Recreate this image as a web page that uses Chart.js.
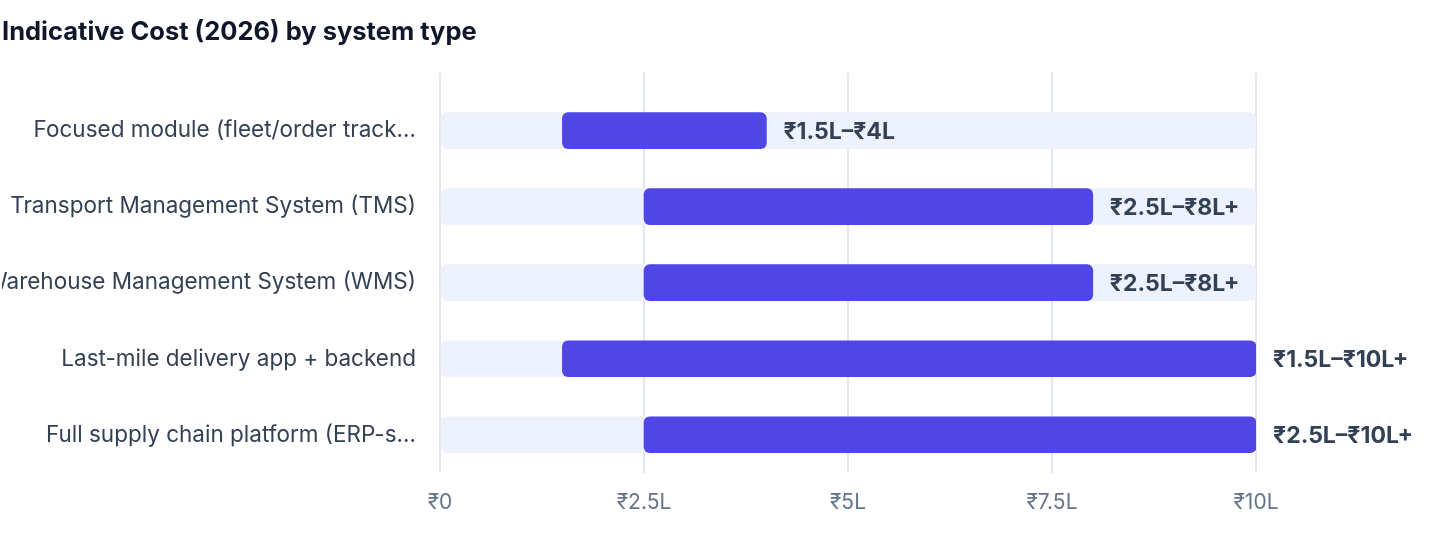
<!DOCTYPE html>
<html>
<head>
    <title>Indicative Cost (2026) by system type</title>
    <meta name="viewport" content="width=device-width, initial-scale=1.0">
    <style>
        html, body { margin: 0; padding: 0; background: #ffffff; }
        #wrap { position: relative; width: 1440px; height: 560px; }
    </style>
</head>
<body>
    <div id="wrap">
        <canvas id="costChart"></canvas>
    </div>

    <script src="https://cdn.jsdelivr.net/npm/chart.js"></script>
    <script>
        // Chart data (values in lakh rupees)
        var systemTypes = [
            'Focused module (fleet/order track…',
            'Transport Management System (TMS)',
            'Warehouse Management System (WMS)',
            'Last-mile delivery app + backend',
            'Full supply chain platform (ERP-s…'
        ];
        var costLow = [1.5, 2.5, 2.5, 1.5, 2.5];
        var costHigh = [4, 8, 8, 10, 10];
        var rangeLabels = ['₹1.5L–₹4L', '₹2.5L–₹8L+', '₹2.5L–₹8L+', '₹1.5L–₹10L+', '₹2.5L–₹10L+'];
        var scaleMax = 10;
        var tickStep = 2.5;

        var fontStack = 'Inter, "Noto Sans", sans-serif';

        var trackData = systemTypes.map(function () { return [0, scaleMax]; });
        var rangeData = costLow.map(function (lo, i) { return [lo, costHigh[i]]; });

        function formatLakh(v) {
            if (v === 0) return '₹0';
            return '₹' + v + 'L';
        }

        // draws the range text to the right of each bar
        var rangeTextPlugin = {
            id: 'rangeText',
            afterDatasetsDraw: function (chart) {
                var ctx = chart.ctx;
                var meta = chart.getDatasetMeta(1);
                ctx.save();
                ctx.font = 'bold 23px ' + fontStack;
                ctx.fillStyle = '#334155';
                ctx.textAlign = 'left';
                ctx.textBaseline = 'middle';
                meta.data.forEach(function (bar, i) {
                    ctx.fillText(rangeLabels[i], bar.x + 17, bar.y + 1);
                });
                ctx.restore();
            }
        };

        var ctx = document.getElementById('costChart').getContext('2d');
        new Chart(ctx, {
            type: 'bar',
            data: {
                labels: systemTypes,
                datasets: [{
                    label: 'Scale',
                    data: trackData,
                    backgroundColor: '#EEF2FF',
                    borderRadius: 6,
                    borderSkipped: false,
                    barThickness: 36,
                    grouped: false,
                    order: 2
                }, {
                    label: 'Cost range',
                    data: rangeData,
                    backgroundColor: '#4F46E5',
                    borderRadius: 6,
                    borderSkipped: false,
                    barThickness: 36,
                    grouped: false,
                    order: 1
                }]
            },
            options: {
                indexAxis: 'y',
                responsive: true,
                maintainAspectRatio: false,
                animation: false,
                layout: {
                    padding: { left: 2, right: 184, top: 0, bottom: 28 }
                },
                plugins: {
                    legend: { display: false },
                    tooltip: { enabled: false },
                    title: {
                        display: true,
                        text: 'Indicative Cost (2026) by system type',
                        align: 'start',
                        color: '#0f172a',
                        font: { family: fontStack, size: 25.5, weight: 'bold' },
                        padding: { top: 17, bottom: 25 }
                    }
                },
                scales: {
                    x: {
                        min: 0,
                        max: scaleMax,
                        position: 'bottom',
                        grid: { color: '#e2e8f0', lineWidth: 2, drawTicks: false },
                        border: { display: false },
                        ticks: {
                            stepSize: tickStep,
                            padding: 17,
                            color: '#64748b',
                            font: { family: fontStack, size: 21 },
                            callback: function (v) { return formatLakh(v); }
                        }
                    },
                    x2: {
                        min: 0,
                        max: scaleMax,
                        position: 'top',
                        grid: { color: '#e2e8f0', lineWidth: 2, drawOnChartArea: false, tickLength: 20 },
                        border: { display: false },
                        ticks: { display: false, stepSize: tickStep }
                    },
                    y: {
                        grid: { display: false },
                        border: { display: false },
                        afterFit: function (scale) { scale.width = 438; },
                        ticks: {
                            padding: 16,
                            color: '#334155',
                            font: { family: fontStack, size: 22.5 }
                        }
                    }
                }
            },
            plugins: [rangeTextPlugin]
        });
    </script>
</body>
</html>
